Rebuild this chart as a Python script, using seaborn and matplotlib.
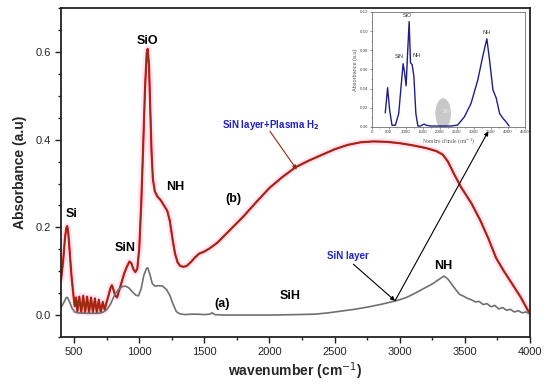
import matplotlib
matplotlib.use("Agg")
import matplotlib.pyplot as plt
from matplotlib.ticker import MultipleLocator
from matplotlib.patches import Ellipse
import seaborn as sns
import pandas as pd

# ---------------- data ----------------
wn_b = [400, 415, 430, 440, 447, 455, 465, 480, 495, 505, 515, 525, 540, 555, 570, 585,
        600, 615, 630, 645, 660, 675, 690, 705, 720, 735, 750, 765, 780, 790, 800, 815,
        830, 845, 865, 885, 905, 925, 940, 955, 970, 985, 1000, 1015, 1030, 1045, 1058,
        1065, 1075, 1085, 1095, 1105, 1120, 1140, 1165, 1190, 1215, 1235, 1255, 1275,
        1295, 1315, 1340, 1365, 1400, 1430, 1460, 1500, 1540, 1600, 1700, 1800, 1900,
        2000, 2100, 2200, 2300, 2400, 2500, 2600, 2700, 2800, 2900, 3000, 3100, 3200,
        3280, 3330, 3370, 3420, 3470, 3550, 3620, 3680, 3740, 3800, 3870, 3930, 4000]
abs_b = [0.080, 0.120, 0.175, 0.198, 0.203, 0.190, 0.150, 0.090, 0.045, 0.020, 0.040,
         0.008, 0.042, 0.006, 0.044, 0.006, 0.042, 0.005, 0.040, 0.006, 0.038, 0.005,
         0.035, 0.006, 0.030, 0.012, 0.030, 0.045, 0.062, 0.068, 0.060, 0.045, 0.040,
         0.055, 0.075, 0.095, 0.110, 0.122, 0.118, 0.105, 0.098, 0.105, 0.150, 0.250,
         0.380, 0.520, 0.598, 0.607, 0.570, 0.470, 0.370, 0.310, 0.282, 0.270, 0.262,
         0.250, 0.238, 0.215, 0.175, 0.140, 0.120, 0.112, 0.110, 0.112, 0.122, 0.132,
         0.140, 0.145, 0.152, 0.165, 0.195, 0.225, 0.258, 0.290, 0.315, 0.337, 0.352,
         0.365, 0.378, 0.388, 0.394, 0.396, 0.395, 0.392, 0.387, 0.381, 0.374, 0.366,
         0.350, 0.320, 0.292, 0.255, 0.215, 0.175, 0.130, 0.100, 0.068, 0.040, 0.002]

wn_a = [400, 420, 440, 450, 465, 485, 505, 530, 600, 680, 720, 750, 780, 810, 840, 870,
        895, 920, 950, 975, 995, 1015, 1035, 1055, 1065, 1080, 1100, 1120, 1150, 1180,
        1210, 1235, 1260, 1285, 1310, 1350, 1400, 1450, 1500, 1540, 1560, 1580, 1650,
        1800, 2000, 2200, 2350, 2450, 2550, 2650, 2750, 2850, 2950, 3000, 3050, 3100,
        3150, 3200, 3250, 3300, 3340, 3370, 3400, 3430, 3460, 3490, 3520, 3550, 3580,
        3610, 3640, 3670, 3700, 3730, 3760, 3790, 3820, 3850, 3880, 3910, 3940, 3970, 4000]
abs_a = [0.017, 0.028, 0.040, 0.040, 0.030, 0.015, 0.007, 0.005, 0.004, 0.004, 0.006,
         0.012, 0.025, 0.045, 0.058, 0.065, 0.066, 0.062, 0.052, 0.045, 0.044, 0.060,
         0.090, 0.106, 0.108, 0.095, 0.072, 0.066, 0.067, 0.066, 0.058, 0.045, 0.025,
         0.008, 0.003, 0.001, 0.002, 0.002, 0.001, 0.002, 0.005, 0.001, 0.000, 0.000,
         0.000, 0.001, 0.002, 0.005, 0.009, 0.013, 0.018, 0.024, 0.031, 0.035, 0.040,
         0.047, 0.055, 0.063, 0.071, 0.081, 0.089, 0.082, 0.070, 0.058, 0.047, 0.043,
         0.038, 0.035, 0.030, 0.031, 0.024, 0.026, 0.019, 0.022, 0.014, 0.017, 0.011,
         0.013, 0.007, 0.010, 0.005, 0.007, 0.003]

wn_in = [396, 465, 525, 594, 693, 792, 861, 921, 960, 1010, 1059, 1099, 1139, 1188, 1238,
         1297, 1356, 1436, 1535, 1604, 1733, 2000, 2327, 2525, 2723, 2921, 3119, 3267,
         3386, 3465, 3564, 3663, 3762, 3861, 3960, 4040]
abs_in = [0.0147, 0.041, 0.0176, 0.0018, 0.0018, 0.014, 0.042, 0.066, 0.058, 0.043, 0.081,
          0.110, 0.067, 0.065, 0.053, 0.014, 0.001, 0.001, 0.003, 0.0018, 0.001, 0.001,
          0.001, 0.002, 0.0105, 0.0246, 0.049, 0.074, 0.092, 0.070, 0.039, 0.030, 0.014,
          0.009, 0.005, 0.001]

df_b = pd.DataFrame({"wavenumber": wn_b, "absorbance": abs_b})
df_a = pd.DataFrame({"wavenumber": wn_a, "absorbance": abs_a})
df_in = pd.DataFrame({"wavenumber": wn_in, "absorbance": abs_in})

# ---------------- style ----------------
sns.set_style("ticks")
plt.rcParams["font.family"] = ["Liberation Sans", "DejaVu Sans"]

fig = plt.figure(figsize=(5.5, 3.86), dpi=100)
ax = fig.add_axes([0.111, 0.127, 0.8526, 0.852])

# curve (b): pink halo + red + brown core
sns.lineplot(data=df_b, x="wavenumber", y="absorbance", ax=ax, color="#ffd6f0",
             lw=5, alpha=0.6, sort=False)
sns.lineplot(data=df_b, x="wavenumber", y="absorbance", ax=ax, color="#e81818",
             lw=1.6, sort=False)
sns.lineplot(data=df_b, x="wavenumber", y="absorbance", ax=ax, color="#8a3010",
             lw=0.9, sort=False)
# curve (a)
sns.lineplot(data=df_a, x="wavenumber", y="absorbance", ax=ax, color="#707070",
             lw=1.2, sort=False)

ax.set_xlim(400, 4000)
ax.set_ylim(-0.05, 0.70)
ax.set_xticks([500, 1000, 1500, 2000, 2500, 3000, 3500, 4000])
ax.set_yticks([0.0, 0.2, 0.4, 0.6])
ax.xaxis.set_minor_locator(MultipleLocator(250))
ax.yaxis.set_minor_locator(MultipleLocator(0.05))
ax.tick_params(axis="both", which="major", length=4, width=1.0, labelsize=8,
               direction="out", color="#222222")
ax.tick_params(axis="both", which="minor", length=2.5, width=1.0, direction="out",
               color="#222222")
for s in ax.spines.values():
    s.set_linewidth(1.3)
    s.set_color("#222222")
ax.set_xlabel("wavenumber (cm$^{-1}$)", fontsize=10, fontweight="bold", labelpad=2)
ax.set_ylabel("Absorbance (a.u)", fontsize=10, fontweight="bold", labelpad=6)

bold = dict(fontsize=9, fontweight="bold", color="black", ha="center", va="center")
ax.text(484, 0.230, "Si", **bold)
ax.text(891, 0.152, "SiN", **bold)
ax.text(1060, 0.625, "SiO", **bold)
ax.text(1275, 0.293, "NH", **bold)
ax.text(1720, 0.264, "(b)", **bold)
ax.text(1636, 0.025, "(a)", **bold)
ax.text(2158, 0.043, "SiH", **bold)
ax.text(3332, 0.111, "NH", **bold)

blue = dict(fontsize=7, fontweight="bold", color="#2020d0", ha="center", va="center")
ax.text(2603, 0.134, "SiN layer", **blue)
ax.text(2012, 0.434, "SiN layer+Plasma H$_\\mathbf{2}$", **blue)

ax.annotate("", xy=(2209, 0.332), xytext=(2004, 0.419),
            arrowprops=dict(arrowstyle="-|>", color="#8e2e12", lw=0.8,
                            mutation_scale=6, shrinkA=0, shrinkB=0))
ax.annotate("", xy=(2964, 0.0325), xytext=(2644, 0.116),
            arrowprops=dict(arrowstyle="-|>", color="black", lw=0.8,
                            mutation_scale=6, shrinkA=0, shrinkB=0))
ax.annotate("", xy=(3680, 0.419), xytext=(2964, 0.0325),
            arrowprops=dict(arrowstyle="-|>", color="black", lw=0.8,
                            mutation_scale=6, shrinkA=0, shrinkB=0))

# ---------------- inset ----------------
ins = fig.add_axes([0.676, 0.671, 0.278, 0.298])
ins.set_facecolor("white")
ell = Ellipse((2100, 0.014), 460, 0.032, facecolor="#c8c8c8", edgecolor="none")
ins.add_patch(ell)
ins.text(2200, 0.016, "SiH", fontsize=3.5, color="#eeeeee", ha="center", va="center")
sns.lineplot(data=df_in, x="wavenumber", y="absorbance", ax=ins, color="#1e1e8c",
             lw=1.0, sort=False)
ins.set_xlim(0, 4500)
ins.set_ylim(0, 0.12)
ins.set_xticks(range(0, 4501, 500))
ins.set_yticks([0.00, 0.02, 0.04, 0.06, 0.08, 0.10, 0.12])
ins.set_yticklabels(["0.00", "0.02", "0.04", "0.06", "0.08", "0.10", "0.12"])
ins.xaxis.set_minor_locator(MultipleLocator(250))
ins.yaxis.set_minor_locator(MultipleLocator(0.01))
ins.tick_params(axis="both", which="major", length=1.5, width=0.4, labelsize=3.2,
                pad=1, direction="out", colors="#444444")
ins.tick_params(axis="both", which="minor", length=1.0, width=0.4, direction="out",
                color="#444444")
for s in ins.spines.values():
    s.set_linewidth(0.5)
    s.set_color("#555555")
ins.set_xlabel("Nombre d'onde (cm$^{-1}$)", fontsize=4, labelpad=1, color="#555555",
               family=["Liberation Serif", "DejaVu Serif"])
ins.set_ylabel("Absorbance (a.u)", fontsize=4, labelpad=1, color="#555555")
small = dict(fontsize=4, color="#333333", ha="center", va="center")
ins.text(1040, 0.116, "SiO", **small)
ins.text(812, 0.074, "SiN", **small)
ins.text(1320, 0.075, "NH", **small)
ins.text(3366, 0.099, "NH", **small)

fig.savefig("out.png", dpi=100)
